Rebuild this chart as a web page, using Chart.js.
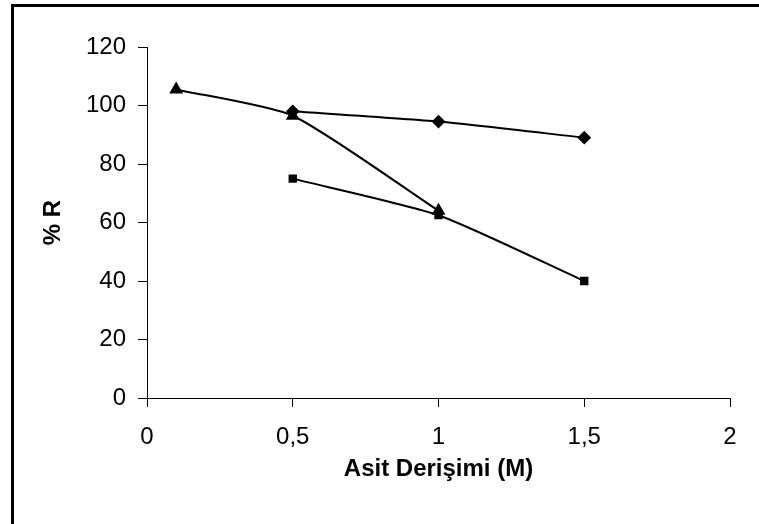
<!DOCTYPE html>
<html>
<head>
<meta charset="utf-8">
<script src="https://cdn.jsdelivr.net/npm/chart.js@4/dist/chart.umd.min.js"></script>
<style>
  html, body { margin: 0; padding: 0; background: #fff; overflow: hidden; }
  #frame { position: absolute; left: 11px; top: 4px; width: 900px; height: 700px; border: 3px solid #000; background: #fff; }
  #wrap { position: absolute; left: 0; top: 0; width: 759px; height: 524px; }
</style>
</head>
<body>
<div id="frame"></div>
<div id="wrap"><canvas id="c" width="759" height="524"></canvas></div>
<script>
// Data
const xDiamond = [0.5, 1.0, 1.5];
const yDiamond = [98, 94.5, 89];
const xSquare = [0.5, 1.0, 1.5];
const ySquare = [75, 62.5, 40];
const xTriangle = [0.1, 0.5, 1.0];
const yTriangle = [105.5, 96.5, 64];
const xTicks = [0, 0.5, 1, 1.5, 2];
const yTicks = [0, 20, 40, 60, 80, 100, 120];
const xTitle = 'Asit Derişimi (M)';
const yTitle = '% R';

function pts(xs, ys) { return xs.map((x, i) => ({ x: x, y: ys[i] })); }

const common = {
  borderColor: '#000', backgroundColor: '#000', borderWidth: 2,
  pointBorderColor: '#000', pointBackgroundColor: '#000',
  showLine: true, tension: 0.2, fill: false
};

new Chart(document.getElementById('c'), {
  type: 'scatter',
  data: {
    datasets: [
      Object.assign({ label: 'A', data: pts(xDiamond, yDiamond), pointStyle: 'rectRot', pointRadius: 5.5 }, common),
      Object.assign({ label: 'B', data: pts(xSquare, ySquare), pointStyle: 'rect', pointRadius: 4.5 }, common),
      Object.assign({ label: 'C', data: pts(xTriangle, yTriangle), pointStyle: 'triangle', pointRadius: 6 }, common)
    ]
  },
  options: {
    responsive: false,
    animation: false,
    devicePixelRatio: 1,
    layout: { padding: { top: 47, right: 29, left: 0, bottom: 0 } },
    plugins: { legend: { display: false }, tooltip: { enabled: false } },
    scales: {
      x: {
        type: 'linear', min: 0, max: 2,
        afterBuildTicks: (s) => { s.ticks = xTicks.map(v => ({ value: v })); },
        afterFit: (s) => { s.height = 126; },
        border: { color: '#000', width: 1 },
        grid: { drawOnChartArea: false, color: '#000', tickLength: 9 },
        ticks: {
          color: '#000', padding: 16,
          font: { family: 'Liberation Sans, Arial', size: 24 },
          callback: (v) => String(v).replace('.', ',')
        },
        title: {
          display: true, text: xTitle, color: '#000',
          font: { family: 'Liberation Sans, Arial', size: 24, weight: 'bold' },
          padding: { top: 0, bottom: 40 }
        }
      },
      y: {
        type: 'linear', min: 0, max: 120,
        afterBuildTicks: (s) => { s.ticks = yTicks.map(v => ({ value: v })); },
        afterFit: (s) => { s.width = 147; },
        border: { color: '#000', width: 1 },
        grid: { drawOnChartArea: false, color: '#000', tickLength: 9 },
        ticks: {
          color: '#000', padding: 12,
          font: { family: 'Liberation Sans, Arial', size: 24 }
        },
        title: {
          display: true, text: yTitle, color: '#000',
          font: { family: 'Liberation Sans, Arial', size: 24, weight: 'bold' },
          padding: { top: 39, bottom: 0 }
        }
      }
    }
  }
});
</script>
</body>
</html>
